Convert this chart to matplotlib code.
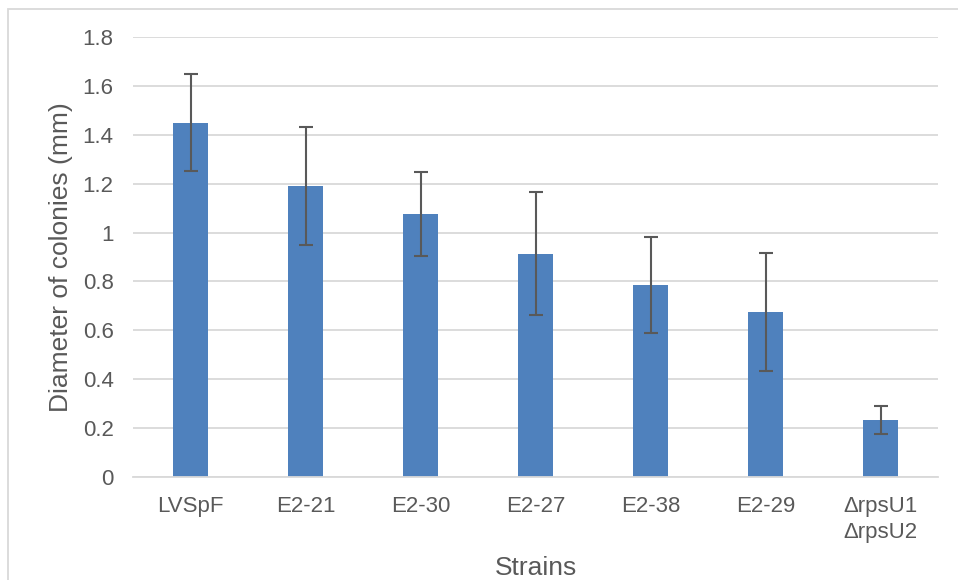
import matplotlib.pyplot as plt
from matplotlib.patches import Rectangle

strains = ["LVSpF", "E2-21", "E2-30", "E2-27", "E2-38", "E2-29", "\u0394rpsU1\n\u0394rpsU2"]
diam = [1.45, 1.19, 1.076, 0.914, 0.786, 0.675, 0.233]
err = [0.198, 0.24, 0.172, 0.25, 0.195, 0.242, 0.058]

plt.rcParams['font.family'] = ['Liberation Sans', 'DejaVu Sans']
txt = '#595959'

fig = plt.figure(figsize=(9.58, 5.8), dpi=100)
ax = fig.add_axes([133 / 958, 103 / 580, 805 / 958, 440 / 580])

x = range(len(strains))
ax.bar(x, diam, width=0.31, color='#4F81BD', zorder=2)
ax.errorbar(x, diam, yerr=err, fmt='none', ecolor='#595959', elinewidth=1.5,
            capsize=5, capthick=1.5, zorder=3)

ax.set_xlim(-0.5, 6.5)
ax.set_ylim(0, 1.8)
ax.set_yticks([0, 0.2, 0.4, 0.6, 0.8, 1, 1.2, 1.4, 1.6, 1.8])
ax.set_yticklabels(['0', '0.2', '0.4', '0.6', '0.8', '1', '1.2', '1.4', '1.6', '1.8'])
ax.set_xticks(list(x))
ax.set_xticklabels(strains, linespacing=1.3)
ax.grid(axis='y', color='#D9D9D9', linewidth=1.3, zorder=0)
for s in ['top', 'right', 'left']:
    ax.spines[s].set_visible(False)
ax.spines['bottom'].set_color('#D9D9D9')
ax.spines['bottom'].set_linewidth(1.3)
ax.tick_params(axis='both', length=0, labelsize=16, colors=txt)
ax.tick_params(axis='y', pad=14)
ax.tick_params(axis='x', pad=14)

ax.set_xlabel("Strains", fontsize=19, color=txt, labelpad=9)
ax.set_ylabel("Diameter of colonies (mm)", fontsize=19, color=txt)
ax.yaxis.set_label_coords(-0.075, 0.5)

# outer frame of the chart area
fig.patches.append(Rectangle((8 / 958, -0.1), 1.1, (580 - 9) / 580 + 0.1,
                             transform=fig.transFigure, fill=False,
                             edgecolor='#D9D9D9', linewidth=1.3))

fig.savefig("out.png", dpi=100)
